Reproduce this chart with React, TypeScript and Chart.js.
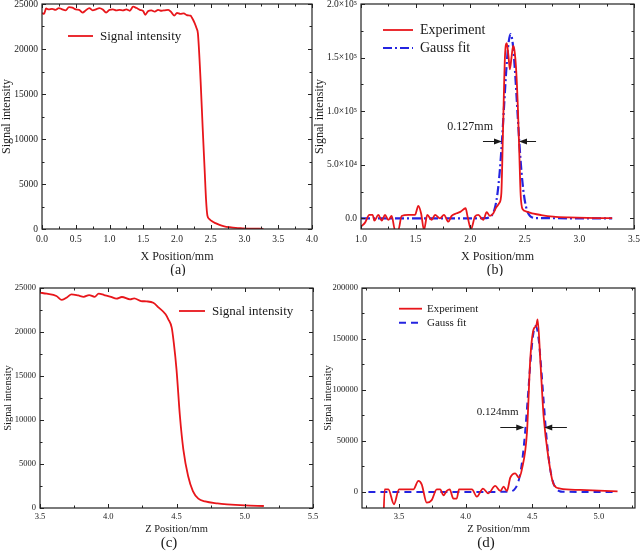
import React, { useEffect, useRef } from 'react';
import { Chart, registerables } from 'chart.js';

Chart.register(...registerables);

const SERIF = '"Liberation Serif", "Times New Roman", Times, serif';
const INK = '#1a1a1a';
const RED = '#e8161b';
const BLUE = '#2424e0';

// ---------- (a) X scan, edge ----------
const A_X = [0, 0.03, 0.06, 0.1, 0.15, 0.2, 0.25, 0.3, 0.35, 0.4, 0.45, 0.5, 0.55, 0.6, 0.65, 0.7, 0.75, 0.8, 0.85, 0.9, 0.95, 1.0, 1.05, 1.1, 1.15, 1.2, 1.25, 1.3, 1.35, 1.4, 1.45, 1.5, 1.53, 1.57, 1.62, 1.67, 1.72, 1.77, 1.82, 1.87, 1.92, 1.96, 2.0, 2.05, 2.1, 2.15, 2.2, 2.22, 2.26, 2.29, 2.31, 2.35, 2.38, 2.41, 2.43, 2.45, 2.48, 2.52, 2.57, 2.63, 2.7, 2.78, 2.87, 2.97, 3.1, 3.28];
const A_SIGNAL = [24000, 23900, 24500, 24400, 24450, 24350, 24550, 24400, 24300, 24650, 24600, 24400, 24350, 24050, 24300, 24550, 24300, 24400, 24550, 24400, 24050, 24350, 24400, 24300, 24350, 24300, 24400, 24250, 24700, 24550, 24350, 24200, 23800, 24200, 24300, 24150, 24350, 24250, 24300, 24350, 24050, 23700, 24000, 23900, 23950, 23750, 23700, 23500, 22900, 22300, 21700, 16400, 11300, 6500, 3300, 1500, 1100, 850, 650, 450, 300, 200, 120, 80, 40, 20];
const A_X_TICKS = [0, 0.5, 1, 1.5, 2, 2.5, 3, 3.5, 4];
const A_Y_TICKS = [0, 5000, 10000, 15000, 20000, 25000];

// ---------- (b) X scan, derivative ----------
const B_X = [1.0, 1.037, 1.076, 1.107, 1.122, 1.159, 1.19, 1.22, 1.25, 1.281, 1.311, 1.342, 1.372, 1.433, 1.494, 1.525, 1.55, 1.577, 1.607, 1.647, 1.678, 1.723, 1.76, 1.8, 1.83, 1.876, 1.912, 1.958, 1.976, 2.007, 2.044, 2.074, 2.12, 2.151, 2.181, 2.212, 2.235, 2.267, 2.285, 2.3, 2.318, 2.335, 2.35, 2.363, 2.378, 2.393, 2.405, 2.42, 2.436, 2.45, 2.462, 2.48, 2.51, 2.58, 2.65, 2.76, 2.9, 3.07, 3.3];
const B_EXPERIMENT = [-7800, -4060, 3120, 3120, -2180, 3120, -2180, 3120, -1560, 2180, -10900, -10900, 2180, 3120, 3120, 11500, 4700, -10900, 3120, -1560, 3120, 0, 3120, -3120, 2180, 4700, 6240, 9360, 1560, -10300, 1560, 3120, -1560, 5620, 2180, 4700, 9500, 14300, 23000, 80000, 150000, 163500, 152000, 139000, 150000, 161000, 157000, 140000, 105000, 60000, 22000, 8500, 6500, 4300, 3000, 1600, 800, 300, 100];
const B_FIT_X = [1.0, 1.5, 2.0, 2.15, 2.17, 2.19, 2.21, 2.23, 2.25, 2.27, 2.29, 2.31, 2.33, 2.35, 2.37, 2.39, 2.41, 2.43, 2.45, 2.47, 2.49, 2.51, 2.53, 2.55, 2.57, 2.59, 3.0, 3.3];
const B_FIT = [0, 0, 0, 210, 660, 1900, 4900, 11300, 23300, 42900, 70700, 104300, 137700, 162700, 172000, 162700, 137700, 104300, 70700, 42900, 23300, 11300, 4900, 1900, 660, 210, 0, 0];
const B_X_TICKS = [1.0, 1.5, 2.0, 2.5, 3.0, 3.5];
const B_Y_TICKS = [0, 50000, 100000, 150000, 200000];

// ---------- (c) Z scan, edge ----------
const C_X = [3.5, 3.55, 3.62, 3.66, 3.7, 3.73, 3.78, 3.82, 3.86, 3.9, 3.93, 3.97, 4.02, 4.06, 4.1, 4.16, 4.19, 4.24, 4.28, 4.33, 4.37, 4.42, 4.44, 4.465, 4.48, 4.5, 4.525, 4.55, 4.585, 4.62, 4.66, 4.71, 4.8, 4.87, 5.0, 5.14];
const C_SIGNAL = [24470, 24350, 24090, 23640, 23950, 24280, 24150, 24000, 24200, 24000, 24360, 24200, 24000, 23790, 23980, 23710, 23830, 23520, 23480, 23330, 22770, 22010, 21440, 20490, 18790, 15760, 10450, 6670, 3640, 1930, 1060, 740, 520, 420, 300, 230];
const C_X_TICKS = [3.5, 4.0, 4.5, 5.0, 5.5];
const C_Y_TICKS = [0, 5000, 10000, 15000, 20000, 25000];

// ---------- (d) Z scan, derivative ----------
const D_X = [3.38, 3.392, 3.42, 3.462, 3.5, 3.608, 3.645, 3.67, 3.708, 3.745, 3.783, 3.81, 3.833, 3.858, 3.88, 3.908, 3.933, 3.95, 4.047, 4.084, 4.13, 4.17, 4.222, 4.26, 4.285, 4.31, 4.335, 4.372, 4.4, 4.422, 4.46, 4.485, 4.51, 4.53, 4.54, 4.56, 4.585, 4.623, 4.66, 4.71, 4.86, 5.14];
const D_EXPERIMENT = [-45000, 2600, 2600, -12000, 2600, 2600, 10800, 7500, -10500, -8000, 2600, 2600, -3300, 1000, 2600, -6500, -6500, 2600, 2600, -4600, 3300, -1300, 5900, 1000, 5200, 1000, 14000, 18300, 14000, 22200, 58100, 130000, 159500, 163000, 169300, 130000, 74500, 32000, 7500, 3300, 2000, 600];
const D_FIT_X = [3.27, 4.0, 4.325, 4.345, 4.365, 4.385, 4.405, 4.425, 4.445, 4.465, 4.485, 4.505, 4.525, 4.545, 4.565, 4.585, 4.605, 4.625, 4.645, 4.665, 4.685, 4.705, 4.725, 5.0, 5.13];
const D_FIT = [0, 0, 220, 770, 2370, 6400, 15100, 31200, 56600, 89900, 125100, 152600, 163000, 152600, 125100, 89900, 56600, 31200, 15100, 6400, 2370, 770, 220, 0, 0];
const D_X_TICKS = [3.5, 4.0, 4.5, 5.0];
const D_Y_TICKS = [0, 50000, 100000, 150000, 200000];

const fmt1 = (v: number) => v.toFixed(1);
const fmtInt = (v: number) => String(Math.round(v));
const SUP = '⁰¹²³⁴⁵⁶⁷⁸⁹';
const fmtSci = (v: number) => {
  if (v === 0) return '0.0';
  const e = Math.floor(Math.log10(Math.abs(v)));
  const m = v / Math.pow(10, e);
  return `${m.toFixed(1)}×10${String(e).split('').map((d) => SUP[Number(d)]).join('')}`;
};

// ---------- plugins ----------
const framePlugin = {
  id: 'frameTicks',
  afterDatasetsDraw(chart: any) {
    const { ctx, chartArea: a, scales } = chart;
    ctx.save();
    ctx.strokeStyle = '#222';
    ctx.lineWidth = 1.2;
    ctx.strokeRect(a.left, a.top, a.right - a.left, a.bottom - a.top);
    ctx.lineWidth = 1;
    const drawFor = (scale: any, horizontal: boolean) => {
      const vals: number[] = scale.ticks.map((t: any) => t.value);
      const minor: number[] = [];
      for (let i = 0; i < vals.length - 1; i++) minor.push((vals[i] + vals[i + 1]) / 2);
      if (vals.length > 1) {
        const step = vals[1] - vals[0];
        minor.push(vals[0] - step / 2, vals[vals.length - 1] + step / 2);
      }
      const mark = (v: number, len: number) => {
        if (v < scale.min - 1e-9 || v > scale.max + 1e-9) return;
        const p = Math.round(scale.getPixelForValue(v)) + 0.5;
        ctx.beginPath();
        if (horizontal) {
          ctx.moveTo(p, a.bottom); ctx.lineTo(p, a.bottom - len);
          ctx.moveTo(p, a.top); ctx.lineTo(p, a.top + len);
        } else {
          ctx.moveTo(a.left, p); ctx.lineTo(a.left + len, p);
          ctx.moveTo(a.right, p); ctx.lineTo(a.right - len, p);
        }
        ctx.stroke();
      };
      vals.forEach((v) => mark(v, 4));
      minor.forEach((v) => mark(v, 2.5));
    };
    drawFor(scales.x, true);
    drawFor(scales.y, false);
    ctx.restore();
  },
};

const legendPlugin = {
  id: 'insideLegend',
  afterDatasetsDraw(chart: any, _args: any, o: any) {
    if (!o || o.x == null) return;
    const { ctx } = chart;
    chart.data.datasets.forEach((ds: any, i: number) => {
      const y = o.y + i * o.gap;
      ctx.save();
      ctx.strokeStyle = ds.borderColor;
      ctx.lineWidth = ds.borderWidth;
      ctx.setLineDash(ds.borderDash || []);
      ctx.beginPath();
      ctx.moveTo(o.x, y);
      ctx.lineTo(o.x + o.len, y);
      ctx.stroke();
      ctx.setLineDash([]);
      ctx.fillStyle = INK;
      ctx.font = `${o.size}px ${SERIF}`;
      ctx.textBaseline = 'middle';
      ctx.textAlign = 'left';
      ctx.fillText(ds.label, o.x + o.len + o.pad, y + 0.5);
      ctx.restore();
    });
  },
};

const fwhmPlugin = {
  id: 'fwhm',
  afterDatasetsDraw(chart: any, _args: any, o: any) {
    if (!o || !o.text) return;
    const { ctx, scales } = chart;
    const x = scales.x, y = scales.y;
    const py = Math.round(y.getPixelForValue(o.arrowY)) + 0.5;
    ctx.save();
    ctx.strokeStyle = INK;
    ctx.fillStyle = INK;
    ctx.lineWidth = 1;
    const arrow = (from: number, to: number) => {
      const a = x.getPixelForValue(from), b = x.getPixelForValue(to);
      const dir = Math.sign(b - a);
      ctx.beginPath();
      ctx.moveTo(a, py);
      ctx.lineTo(b - dir * 6, py);
      ctx.stroke();
      ctx.beginPath();
      ctx.moveTo(b, py);
      ctx.lineTo(b - dir * 8, py - 3);
      ctx.lineTo(b - dir * 8, py + 3);
      ctx.closePath();
      ctx.fill();
    };
    arrow(o.leftFrom, o.leftTo);
    arrow(o.rightFrom, o.rightTo);
    ctx.font = `${o.size}px ${SERIF}`;
    ctx.textAlign = 'center';
    ctx.textBaseline = 'middle';
    ctx.fillText(o.text, x.getPixelForValue(o.textX), y.getPixelForValue(o.textY));
    ctx.restore();
  },
};

const captionPlugin = {
  id: 'caption',
  afterDraw(chart: any, _args: any, o: any) {
    if (!o || !o.text) return;
    const { ctx } = chart;
    ctx.save();
    ctx.fillStyle = INK;
    ctx.font = `${o.size}px ${SERIF}`;
    ctx.textAlign = 'center';
    ctx.textBaseline = 'middle';
    ctx.fillText(o.text, o.x, o.y);
    ctx.restore();
  },
};

type Series = { label: string; xs: number[]; ys: number[]; color: string; width: number; dash?: number[] };
type PanelSpec = {
  left: number; top: number; width: number; height: number;
  padTop: number; padRight: number; yWidth: number; xHeight: number;
  series: Series[];
  xMin: number; xMax: number; yMin: number; yMax: number;
  xTicks: number[]; yTicks: number[];
  xFmt: (v: number) => string; yFmt: (v: number) => string;
  xTickSize: number; yTickSize: number; xTickPad: number; yTickPad: number;
  xTitle: string; xTitleSize: number; xTitleLH: string; xTitlePad: number;
  yTitle: string; yTitleSize: number; yTitleLH: string; yTitlePad: number;
  caption: { text: string; x: number; y: number; size: number };
  legend: { x: number; y: number; gap: number; len: number; pad: number; size: number };
  fwhm?: any;
};

function buildConfig(p: PanelSpec): any {
  const font = (size: number, lineHeight?: string) => ({ family: SERIF, size, weight: 'normal', lineHeight: lineHeight || 1.2 });
  return {
    type: 'line',
    data: {
      datasets: p.series.map((s) => ({
        label: s.label,
        data: s.xs.map((x, i) => ({ x, y: s.ys[i] })),
        borderColor: s.color,
        backgroundColor: s.color,
        borderWidth: s.width,
        borderDash: s.dash || [],
        pointRadius: 0,
        pointHoverRadius: 0,
        fill: false,
        tension: 0.4,
        cubicInterpolationMode: 'monotone',
      })),
    },
    options: {
      responsive: false,
      animation: false,
      events: [],
      layout: { padding: { left: 0, top: p.padTop, right: p.padRight, bottom: 0 } },
      plugins: {
        legend: { display: false },
        tooltip: { enabled: false },
        title: { display: false },
        insideLegend: p.legend,
        fwhm: p.fwhm || { text: '' },
        caption: p.caption,
      },
      scales: {
        x: {
          type: 'linear',
          position: 'bottom',
          min: p.xMin,
          max: p.xMax,
          afterBuildTicks: (s: any) => { s.ticks = p.xTicks.map((value) => ({ value })); },
          afterFit: (s: any) => { s.height = p.xHeight; s.paddingLeft = 0; s.paddingRight = 0; },
          grid: { display: false, drawTicks: false },
          border: { display: false },
          ticks: { color: INK, font: font(p.xTickSize), padding: p.xTickPad, maxRotation: 0, autoSkip: false, callback: (v: any) => p.xFmt(Number(v)) },
          title: { display: true, text: p.xTitle, color: INK, font: font(p.xTitleSize, p.xTitleLH), padding: { top: 0, bottom: p.xTitlePad } },
        },
        y: {
          type: 'linear',
          position: 'left',
          min: p.yMin,
          max: p.yMax,
          afterBuildTicks: (s: any) => { s.ticks = p.yTicks.map((value) => ({ value })); },
          afterFit: (s: any) => { s.width = p.yWidth; s.paddingTop = 0; s.paddingBottom = 0; },
          grid: { display: false, drawTicks: false },
          border: { display: false },
          ticks: { color: INK, font: font(p.yTickSize), padding: p.yTickPad, autoSkip: false, callback: (v: any) => p.yFmt(Number(v)) },
          title: { display: true, text: p.yTitle, color: INK, font: font(p.yTitleSize, p.yTitleLH), padding: { top: p.yTitlePad, bottom: 0 } },
        },
      },
    },
    plugins: [framePlugin, legendPlugin, fwhmPlugin, captionPlugin],
  };
}

const PANELS: PanelSpec[] = [
  {
    left: 0, top: 0, width: 320, height: 276, padTop: 4, padRight: 8, yWidth: 42, xHeight: 47,
    series: [{ label: 'Signal intensity', xs: A_X, ys: A_SIGNAL, color: RED, width: 1.8 }],
    xMin: 0, xMax: 4, yMin: 0, yMax: 25000, xTicks: A_X_TICKS, yTicks: A_Y_TICKS, xFmt: fmt1, yFmt: fmtInt,
    xTickSize: 9.5, yTickSize: 9.5, xTickPad: 5, yTickPad: 4,
    xTitle: 'X Position/mm', xTitleSize: 12, xTitleLH: '14px', xTitlePad: 12,
    yTitle: 'Signal intensity', yTitleSize: 12, yTitleLH: '10px', yTitlePad: 1.5,
    caption: { text: '(a)', x: 178, y: 270, size: 14 },
    legend: { x: 68, y: 36, gap: 18, len: 25, pad: 7, size: 13 },
  },
  {
    left: 310, top: 0, width: 330, height: 276, padTop: 4, padRight: 6, yWidth: 51, xHeight: 47,
    series: [
      { label: 'Experiment', xs: B_X, ys: B_EXPERIMENT, color: RED, width: 1.8 },
      { label: 'Gauss fit', xs: B_FIT_X, ys: B_FIT, color: BLUE, width: 2.2, dash: [9, 3, 2, 3] },
    ],
    xMin: 1, xMax: 3.5, yMin: -10000, yMax: 200000, xTicks: B_X_TICKS, yTicks: B_Y_TICKS, xFmt: fmt1, yFmt: fmtSci,
    xTickSize: 9.5, yTickSize: 9.5, xTickPad: 5, yTickPad: 4,
    xTitle: 'X Position/mm', xTitleSize: 12, xTitleLH: '14px', xTitlePad: 12,
    yTitle: 'Signal intensity', yTitleSize: 12, yTitleLH: '14px', yTitlePad: 3,
    caption: { text: '(b)', x: 185, y: 270, size: 14 },
    legend: { x: 73, y: 30, gap: 18, len: 30, pad: 7, size: 14 },
    fwhm: { text: '0.127mm', size: 12, textX: 2.0, textY: 85300, arrowY: 72000, leftFrom: 2.117, leftTo: 2.291, rightFrom: 2.603, rightTo: 2.447 },
  },
  {
    left: 0, top: 276, width: 320, height: 276, padTop: 12, padRight: 7, yWidth: 40, xHeight: 44,
    series: [{ label: 'Signal intensity', xs: C_X, ys: C_SIGNAL, color: RED, width: 1.8 }],
    xMin: 3.5, xMax: 5.5, yMin: 0, yMax: 25000, xTicks: C_X_TICKS, yTicks: C_Y_TICKS, xFmt: fmt1, yFmt: fmtInt,
    xTickSize: 8.5, yTickSize: 8.5, xTickPad: 4, yTickPad: 4,
    xTitle: 'Z Position/mm', xTitleSize: 10.5, xTitleLH: '12px', xTitlePad: 16.7,
    yTitle: 'Signal intensity', yTitleSize: 10.5, yTitleLH: '12.6px', yTitlePad: 1.5,
    caption: { text: '(c)', x: 169, y: 266.7, size: 15 },
    legend: { x: 179, y: 35, gap: 18, len: 26, pad: 7, size: 13 },
  },
  {
    left: 320, top: 276, width: 320, height: 276, padTop: 12, padRight: 5, yWidth: 42, xHeight: 44,
    series: [
      { label: 'Experiment', xs: D_X, ys: D_EXPERIMENT, color: RED, width: 1.8 },
      { label: 'Gauss fit', xs: D_FIT_X, ys: D_FIT, color: BLUE, width: 2, dash: [7, 5] },
    ],
    xMin: 3.222, xMax: 5.271, yMin: -15700, yMax: 200000, xTicks: D_X_TICKS, yTicks: D_Y_TICKS, xFmt: fmt1, yFmt: fmtInt,
    xTickSize: 8.5, yTickSize: 8.5, xTickPad: 4, yTickPad: 4,
    xTitle: 'Z Position/mm', xTitleSize: 10.5, xTitleLH: '12px', xTitlePad: 16.7,
    yTitle: 'Signal intensity', yTitleSize: 10.5, yTitleLH: '12.6px', yTitlePad: 1.5,
    caption: { text: '(d)', x: 166, y: 266.7, size: 15 },
    legend: { x: 79, y: 32.7, gap: 14, len: 23, pad: 5, size: 11 },
    fwhm: { text: '0.124mm', size: 11, textX: 4.24, textY: 78700, arrowY: 64000, leftFrom: 4.26, leftTo: 4.44, rightFrom: 4.76, rightTo: 4.59 },
  },
];

function PanelChart({ spec }: { spec: PanelSpec }) {
  const ref = useRef<HTMLCanvasElement>(null);
  useEffect(() => {
    if (!ref.current) return;
    const chart = new Chart(ref.current, buildConfig(spec));
    return () => chart.destroy();
  }, [spec]);
  return (
    <canvas
      ref={ref}
      width={spec.width}
      height={spec.height}
      style={{ position: 'absolute', left: spec.left, top: spec.top, width: spec.width, height: spec.height }}
    />
  );
}

export default function App() {
  return (
    <div style={{ position: 'absolute', left: 0, top: 0, width: 640, height: 552, background: '#fff', overflow: 'hidden' }}>
      {PANELS.map((p, i) => (
        <PanelChart key={i} spec={p} />
      ))}
    </div>
  );
}
